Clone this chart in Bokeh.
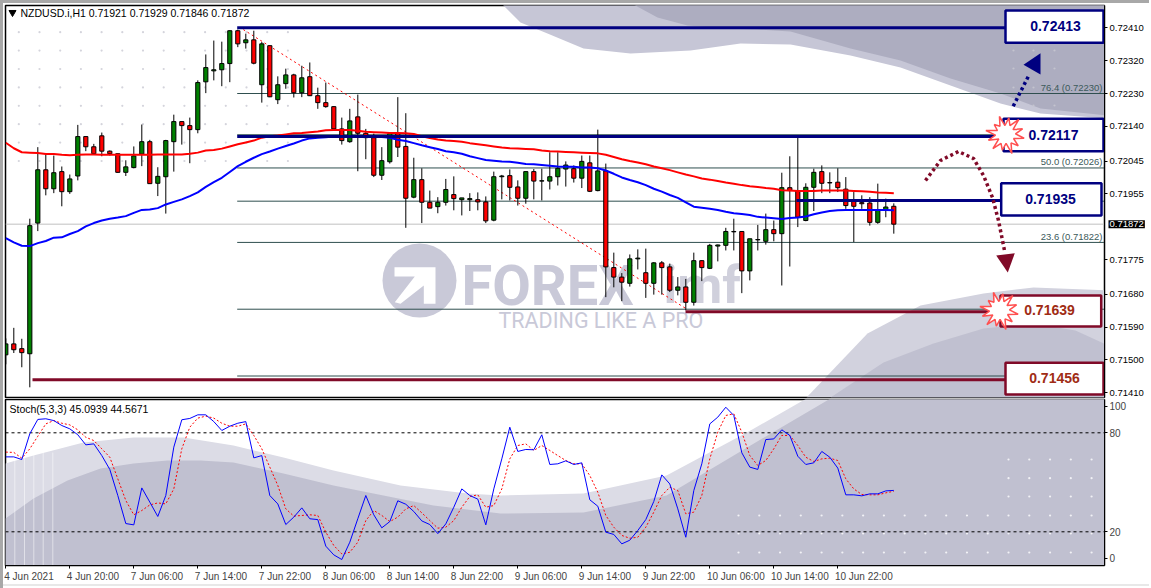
from bokeh.plotting import figure
from bokeh.layouts import column, row
from bokeh.models import Range1d, FixedTicker, NumeralTickFormatter, Label, Spacer
from bokeh.core.properties import value
from bokeh.embed import file_html
from bokeh.resources import INLINE
import math

# ---------- data (prices in 1e-5 units) ----------
opens = [71514,71544,71531,71517,71875,72021,71969,72016,71961,72004,
 72112,72084,72114,72072,72065,72014,72027,72064,72098,71984,
 72002,72098,72153,72142,72131,72262,72292,72295,72312,72402,
 72369,72377,72254,72361,72213,72257,72281,72232,72276,72224,
 72205,72194,72133,72098,72166,72121,72109,72006,72043,72120,
 72085,71946,71994,71932,71920,71932,71953,71939,71939,71939,
 71933,71883,72002,72005,71974,71943,72016,71990,71990,72002,
 72023,72024,71998,72040,71964,72018,71753,71727,71710,71777,
 71739,71710,71766,71755,71691,71700,71658,71772,71751,71812,
 71814,71851,71852,71744,71829,71825,71857,71846,71972,71964,
 71882,71973,72016,71986,71987,71968,71937,71931,71930,71877,71912,71921]
closes = [71544,71528,71520,71868,72021,71969,72013,71961,71996,72112,
 72084,72065,72072,72065,72014,72029,72059,72098,71983,72003,
 72101,72153,72142,72131,72260,72301,72295,72312,72402,72366,
 72377,72313,72366,72221,72254,72281,72232,72273,72224,72205,
 72194,72133,72101,72155,72121,72109,72006,72046,72120,72083,
 71943,71994,71932,71916,71932,71967,71942,71944,71942,71933,
 71881,72002,72004,71973,71943,72016,71990,71991,72002,72025,
 72034,71998,72044,71962,72018,71755,71727,71713,71777,71779,
 71710,71766,71753,71691,71700,71658,71772,71753,71814,71815,
 71852,71852,71744,71832,71830,71857,71846,71972,71964,71891,
 71973,72014,71984,71985,71972,71923,71921,71928,71877,71912,71919,71872]
highs = [71559,71588,71558,71887,72083,72065,72060,72030,72008,72144,
 72112,72092,72123,72074,72065,72047,72085,72145,72103,72028,
 72103,72172,72153,72164,72266,72337,72375,72372,72403,72405,
 72394,72402,72371,72361,72277,72298,72284,72306,72315,72246,
 72260,72195,72164,72188,72227,72133,72120,72083,72124,72220,
 72176,72054,72025,71964,71946,71996,72003,71944,71957,71959,
 71948,72016,72007,72022,71992,72016,72023,72024,72069,72069,
 72044,72033,72060,72060,72131,72038,71794,71738,71789,71803,
 71805,71768,71771,71764,71727,71722,71794,71773,71818,71816,
 71862,71887,71852,71832,71870,71901,71882,72013,72058,72109,
 71984,72024,72033,72014,72025,72001,71960,71951,71946,71983,71942,71929]
lows = [71488,71519,71480,71425,71853,71951,71957,71921,71955,71992,
 72072,72065,72058,72060,72013,72004,72025,72031,71983,71949,
 71901,72016,72090,72039,72121,72231,72266,72250,72261,72357,
 72353,72310,72205,72220,72201,72243,72219,72220,72223,72188,
 72191,72133,72090,72095,72017,72050,72001,71993,72038,72056,
 71862,71943,71875,71916,71902,71923,71910,71896,71908,71910,
 71875,71880,71940,71937,71923,71928,71940,71937,71967,71978,
 71975,71986,71971,71960,71962,71672,71699,71661,71701,71748,
 71670,71679,71679,71686,71677,71636,71649,71716,71749,71770,
 71800,71800,71683,71718,71800,71816,71825,71704,71756,71864,
 71880,71908,71957,71957,71960,71914,71823,71914,71868,71873,71891,71846]
ma_slow = [72095,72080,72069,72068,72067,72064,72064,72062,72061,72062,
 72063,72063,72062,72062,72062,72062,72062,72062,72062,72063,
 72063,72063,72063,72065,72068,72074,72075,72079,72085,72091,
 72096,72101,72109,72113,72115,72118,72121,72122,72124,72126,
 72129,72130,72130,72130,72128,72125,72124,72123,72122,72122,
 72121,72119,72113,72108,72104,72101,72100,72098,72094,72091,
 72088,72085,72082,72080,72079,72078,72077,72074,72072,72071,
 72070,72069,72068,72067,72066,72062,72056,72050,72045,72041,
 72036,72030,72025,72020,72014,72008,72003,71997,71994,71990,
 71986,71983,71979,71976,71974,71971,71969,71965,71964,71963,
 71963,71963,71964,71964,71964,71964,71963,71962,71961,71959,71958,71957]
ma_fast = [71834,71822,71813,71812,71820,71826,71835,71836,71845,71853,
 71866,71875,71882,71887,71890,71894,71903,71911,71912,71916,
 71926,71933,71940,71949,71959,71974,71987,71999,72015,72031,
 72043,72054,72064,72071,72079,72086,72093,72101,72107,72109,
 72110,72112,72113,72113,72113,72112,72112,72111,72109,72103,
 72100,72094,72088,72083,72078,72072,72069,72065,72058,72053,
 72048,72046,72044,72043,72040,72037,72036,72034,72032,72030,
 72029,72029,72027,72027,72025,72019,72010,72000,71993,71987,
 71979,71969,71961,71952,71944,71932,71920,71917,71914,71911,
 71906,71902,71900,71897,71892,71890,71888,71886,71889,71890,
 71893,71899,71904,71908,71910,71911,71911,71911,71911,71911,71911,71910]
stoch_main = [65.4,65.4,63.8,79.4,88.1,88.5,87.4,84.4,82.4,78.8,
 72.7,73.3,66.2,57.8,42,25,24.2,46.6,38,29.3,
 42,71.3,87.9,88.7,90.9,90.9,86.8,81.4,84,85.8,
 86.8,64.8,66.2,42,36.9,24.4,28.9,34.5,27.9,27.4,
 11.3,6,3.2,13.7,27.9,42,30.3,22.4,26.2,38.8,
 36.7,32.3,26.6,24.4,18.9,24.8,34.9,46,42,39.8,
 24.2,46,64.2,83.4,68.7,69.9,69.7,78.8,60.8,61.2,
 63,60.8,61.8,39.4,35.5,19.8,18.4,12.7,14.9,20.8,
 27.4,38.4,54.5,49,33.9,16.7,45,61.2,85.4,89.5,
 95.5,90.5,67.9,59.2,57.8,75.9,76.3,81.8,78.4,65.8,
 60.8,61.8,68.7,65.2,58.6,42.4,42.4,41.8,43,43,44.8,45.09]
stoch_signal = [68.3,68.1,64.6,70.3,77.9,85.4,87.4,85.8,84.8,81.8,
 77.3,75.3,70.3,65.2,52.1,39,30.3,32.9,36.3,37.5,
 36.9,46,70.3,83.4,88.9,90.1,88.9,85.8,84,84,
 85.4,78.4,70.3,59.2,48.1,33.9,29.5,29.9,30.3,29.9,
 19.8,11.7,6.6,7.6,13.7,26.8,32.9,29.9,26.2,28.9,
 33.9,35.9,31.5,26.8,22.2,22.8,26.8,34.9,41.4,42.4,
 34.9,35.9,46,64.2,72.3,73.3,69.3,72.3,69.3,66.2,
 63.2,61.2,61.2,54.1,44,29.9,22.8,17.8,16.1,16.7,
 22.8,31.9,42,47,45,30.9,31.9,42,64.2,80.4,
 90.5,91.5,80.4,66.2,60.2,63.2,70.3,78.4,78.4,72.3,
 65.2,62.6,64.2,64.6,63.2,52.1,46,42.6,42.4,42.4,43.6,44.57]
price_ticks = [0.72410,0.72320,0.72230,0.72140,0.72045,0.71955,0.71775,0.71680,0.71590,0.71500,0.71410]
stoch_ticks = {96:"100", 80:"80", 20:"20", 4:"0"}
time_labels = ["4 Jun 2021","4 Jun 20:00","7 Jun 06:00","7 Jun 14:00","7 Jun 22:00","8 Jun 06:00","8 Jun 14:00",
 "8 Jun 22:00","9 Jun 06:00","9 Jun 14:00","9 Jun 22:00","10 Jun 06:00","10 Jun 14:00","10 Jun 22:00"]
fib_levels = [0.72230,0.72117,0.72026,0.71935,0.71822,0.71639,0.71456]
fib_text = {"76.4 (0.72230)":0.72230,"50.0 (0.72026)":0.72026,"23.6 (0.71822)":0.71822}
levels_up = [0.72410,0.72112,0.71937]
levels_down = [0.71632,0.71446]
current_price = 0.71872
trend_bars = [29.7,85.0]
trend_prices = [0.72405,0.71641]
n = len(opens)
assert all(len(a)==n for a in (closes,highs,lows,ma_slow,ma_fast,stoch_main,stoch_signal)) and n==112

# ---------- reference-pixel helpers for decoration ----------
def X(px): return (px-5.3)/8
def Y(py): return 0.7241-(py-27.3)/36500
def S(py): return 80-(py-432.3)/1.65
FONT = value("Liberation Sans")
idx = list(range(n))
RIGHT = 1104
x_range = Range1d(X(5),X(RIGHT))

p = figure(width=1146,height=395,frame_width=RIGHT-5,frame_height=392,min_border_left=2,min_border_top=2,min_border_bottom=1,
           min_border_right=0,x_range=x_range,y_range=Range1d(Y(397),Y(5)),x_axis_location=None,y_axis_location="right",
           toolbar_location=None,output_backend="svg",background_fill_color="white",border_fill_color="white")
p.grid.visible=False
p.outline_line_color="black"; p.outline_line_width=1.5; p.outline_line_alpha=1
p.yaxis.ticker=FixedTicker(ticks=price_ticks)
p.yaxis.formatter=NumeralTickFormatter(format="0.00000")
ax=p.yaxis[0]
ax.major_tick_out=3; ax.major_tick_in=0; ax.minor_tick_out=0; ax.minor_tick_in=0; ax.major_label_standoff=2
ax.major_label_text_font="Liberation Sans"; ax.major_label_text_font_size="9.5px"; ax.major_label_text_color="black"
ax.axis_line_color="black"; ax.major_tick_line_color="black"

LIGHT1,DARK1="#c6c6d6","#adadc0"
def poly(fig,pts,color,fy):
    fig.patch([X(a) for a,b in pts],[fy(b) for a,b in pts],fill_color=color,line_color=None)
poly(p,[(502,4),(520,22),(547,33),(583,48),(630,53),(690,50),(740,43),(790,44),(850,55),(900,67),(950,85),(1000,103),(1040,113),(1108,118),(1108,4)],LIGHT1,Y)
poly(p,[(633,4),(657,17),(687,25),(723,28),(757,29),(790,31),(850,48),(900,60),(950,78),(1000,93),(1040,108),(1108,115),(1108,4)],DARK1,Y)
poly(p,[(806,397),(867,333),(920,305),(983,293),(1033,287),(1108,290),(1108,397)],"#d2d2de",Y)
poly(p,[(830,397),(883,362),(933,343),(983,328),(1033,323),(1075,330),(1108,345),(1108,397)],"#c0c0d0",Y)
# gray dot watermark
dx=[18.3+20.7*k for k in range(14)]; dy=[31.7+18.4*r for r in range(8)]
p.scatter([X(a) for a in dx for b in dy],[Y(b) for a in dx for b in dy],size=2.2,color="#d4d4dc",line_color=None)
dx2=[1013,1033,1054]; dy2=[50,68,87,105]
p.scatter([X(a) for a in dx2 for b in dy2],[Y(b) for a in dx2 for b in dy2],size=2.2,color="#c4c4ce",line_color=None)
# logo watermark
WM="#c9c9d8"
p.scatter([X(419)],[Y(280)],size=74,color=WM,line_color=None)
poly(p,[(394,266.7),(435,266.7),(435,303.3),(423.3,303.3),(423.3,285),(400,303.3),(394.3,301.7),(414.3,276),(394,276)],"white",Y)
p.text([X(461)],[Y(285)],text=["FOREX"],text_font=value("Roboto"),text_font_style="bold",text_font_size="56px",text_color=WM,text_align="left",text_baseline="middle")
p.text([X(663)],[Y(285)],text=["imf"],text_font=value("Roboto"),text_font_style="bold",text_font_size="52px",text_color="#d0d0dc",text_align="left",text_baseline="middle")
p.text([X(498)],[Y(320)],text=["TRADING LIKE A PRO"],text_font=value("Roboto"),text_font_size="21.5px",text_color=WM,text_align="left",text_baseline="middle")

# fibonacci levels and current price
p.segment([X(236.7)]*len(fib_levels),fib_levels,[X(RIGHT)]*len(fib_levels),fib_levels,line_color="#2f4f4f",line_width=1)
p.segment([X(5)],[current_price],[X(RIGHT)],[current_price],line_color="#c0c0c0",line_width=1)
p.line(trend_bars,trend_prices,line_color="red",line_width=1,line_dash="2 3")

# candles
o=[v/1e5 for v in opens]; c=[v/1e5 for v in closes]; h=[v/1e5 for v in highs]; l=[v/1e5 for v in lows]
p.segment(idx,h,idx,l,line_color="black",line_width=1)
p.vbar(idx,width=0.52,top=[max(a,b) for a,b in zip(o,c)],bottom=[min(a,b) for a,b in zip(o,c)],
       fill_color=["#008000" if b>=a else "#ff0000" for a,b in zip(o,c)],line_color="black",line_width=1)
p.line(idx,[v/1e5 for v in ma_slow],line_color="#ff0000",line_width=2)
p.line(idx,[v/1e5 for v in ma_fast],line_color="#0000ff",line_width=2)

# key levels
NAVY,MAROON="#000080","#800a28"
p.segment([X(236.7),X(236.7),X(796)],levels_up,[X(1005),X(1003),X(1000)],levels_up,line_color=NAVY,line_width=3)
p.segment([X(685),X(32)],levels_down,[X(1000),X(1005)],levels_down,line_color=MAROON,line_width=3)
# fib captions
for t,v in fib_text.items():
    p.text([X(1102)],[v+6.3/36500],text=[t],text_font=FONT,text_font_size="9.5px",text_color="#3c5a5a",text_align="right",text_baseline="middle")
# boxes
boxes=[(1005,1106,10,42.3,"0.72413",1055,25,NAVY,NAVY),(1003,1104,118.3,150.7,"0.72117",1053,134,NAVY,NAVY),
       (1000.7,1101,182.7,215,"0.71935",1050,198,NAVY,NAVY),(1000,1100.7,295,326,"0.71639",1049,309.5,MAROON,"#a02c14"),
       (1005,1105,362.3,394,"0.71456",1054,377,MAROON,"#a02c14")]
for a,b,t,u,s,tx,ty,col,tc in boxes:
    p.quad(left=X(a),right=X(min(b,RIGHT-1)),top=Y(t),bottom=Y(u),fill_color="white",line_color=col,line_width=2.5)
    p.text([X(tx)],[Y(ty)],text=[s],text_font=FONT,text_font_style="bold",text_font_size="14px",text_color=tc,text_align="center",text_baseline="middle")
# bursts
radii=[19,9,17,10,20,9,16,10,19,8,18,10,20,9,15,10,19,9,17,10,20,9,18,10]
def burst(cx,cy):
    pts=[(cx+r*math.cos(2*math.pi*k/len(radii)+0.2),cy+r*math.sin(2*math.pi*k/len(radii)+0.2)) for k,r in enumerate(radii)]
    p.patch([X(a) for a,b in pts],[Y(b) for a,b in pts],fill_color="white",line_color="#ff5050",line_width=1.5)
burst(1005,134); burst(999,310)
# arrows
p.line([X(1012.7),X(1028.3)],[Y(105.7),Y(75)],line_color=NAVY,line_width=3.5,line_dash="3 3")
poly(p,[(1023,64.3),(1040,52.7),(1040,74)],NAVY,Y)
cv=[(925,180),(940,160),(958,151),(973,158),(983,175),(992,197),(998,220),(1004,250)]
p.line([X(a) for a,b in cv],[Y(b) for a,b in cv],line_color=MAROON,line_width=3.5,line_dash="3 3")
poly(p,[(995.7,255),(1014.3,252.7),(1007.3,272)],MAROON,Y)
# header
p.scatter([X(12)],[Y(12)],marker="inverted_triangle",size=7,color="black")
p.text([X(20)],[Y(12.5)],text=["NZDUSD.i,H1  0.71921 0.71929 0.71846 0.71872"],text_font=FONT,text_font_size="10.5px",text_color="black",text_align="left",text_baseline="middle")
p.add_layout(Label(x=-38,x_units="screen",y=current_price,y_units="data",text="0.71872",text_font="Liberation Sans",text_font_size="9.5px",
                   text_color="white",background_fill_color="black",text_baseline="middle",text_align="left",padding=1),"right")

# ---------- stochastic panel ----------
q = figure(width=1146,height=188,frame_width=RIGHT-5,frame_height=166,min_border_left=2,min_border_top=1,min_border_bottom=0,min_border_right=0,
           x_range=x_range,y_range=Range1d(S(565),S(399)),x_axis_location="below",y_axis_location="right",
           toolbar_location=None,output_backend="svg",background_fill_color="white",border_fill_color="white")
q.grid.visible=False
q.outline_line_color="black"; q.outline_line_width=1.5; q.outline_line_alpha=1
poly(q,[(5,463),(33,455),(83,442),(133,437),(183,437),(233,445),(283,457),(333,470),(400,485),(467,493),(500,495),(583,493),(666,475),(750,430),(806,398),(1108,398),(1108,565),(5,565)],"#dcdce6",S)
poly(q,[(5,518),(33,498),(67,480),(100,468),(133,463),(167,460),(200,460),(233,462),(283,473),(333,485),(383,495),(433,505),(500,513),(583,512),(666,495),(750,445),(830,398),(1108,398),(1108,565),(5,565)],"#c0c0d0",S)
sx=[14.3,24,33.3,42.7,52.3]
q.segment([X(a) for a in sx],[S(452)]*5,[X(a) for a in sx],[S(565)]*5,line_color="white",line_alpha=0.5,line_width=1)
cols=[738+20.77*k for k in range(18)]
rows_low=[515,533,552]; rows_up=[459,477.7,496]
q.scatter([X(a) for a in cols for b in rows_low],[S(b) for a in cols for b in rows_low],size=2.2,color="#f2f2f6",line_color=None)
cols2=cols[-5:]
q.scatter([X(a) for a in cols2 for b in rows_up],[S(b) for a in cols2 for b in rows_up],size=2.2,color="#f2f2f6",line_color=None)
q.segment([X(5),X(5)],[80,20],[X(RIGHT),X(RIGHT)],[80,20],line_color="black",line_width=1,line_dash="3 3")
q.line(idx,stoch_signal,line_color="#ff0000",line_width=1,line_dash="2 2")
q.line(idx,stoch_main,line_color="#0000ff",line_width=1)
q.text([X(9)],[S(408)],text=["Stoch(5,3,3) 45.0939 44.5671"],text_font=FONT,text_font_size="10.5px",text_color="black",text_align="left",text_baseline="middle")
yax=q.yaxis[0]
yax.ticker=FixedTicker(ticks=list(stoch_ticks)); yax.major_label_overrides=dict(stoch_ticks)
yax.major_tick_out=3; yax.major_tick_in=0; yax.minor_tick_out=0; yax.minor_tick_in=0; yax.major_label_standoff=2
yax.major_label_text_font="Liberation Sans"; yax.major_label_text_font_size="10px"
xax=q.xaxis[0]
real_ticks=[8*k for k in range(len(time_labels))]
# MT4 prints each date to the right of its tick mark
label_pos=[t+(3.25 if lab.startswith("10") else 2.9) for t,lab in zip(real_ticks,time_labels)]
xax.ticker=FixedTicker(ticks=label_pos,minor_ticks=real_ticks); xax.major_label_overrides=dict(zip(label_pos,time_labels))
xax.major_tick_out=0; xax.major_tick_in=0; xax.minor_tick_out=3; xax.minor_tick_in=0; xax.major_label_standoff=2
xax.major_label_text_font="Liberation Sans"; xax.major_label_text_font_size="10px"

GREY="#a8a8a8"
layout=row(Spacer(width=3,height=588,styles={"background":GREY}),
           column(Spacer(width=1146,height=3,styles={"background":GREY}),p,q,
                  Spacer(width=1146,height=2,styles={"background":"#e8e8e8"}),spacing=0),
           Spacer(width=2,height=588,styles={"background":"#c8c8c8"}),spacing=0)
open("out.html","w").write(file_html(layout,INLINE))
